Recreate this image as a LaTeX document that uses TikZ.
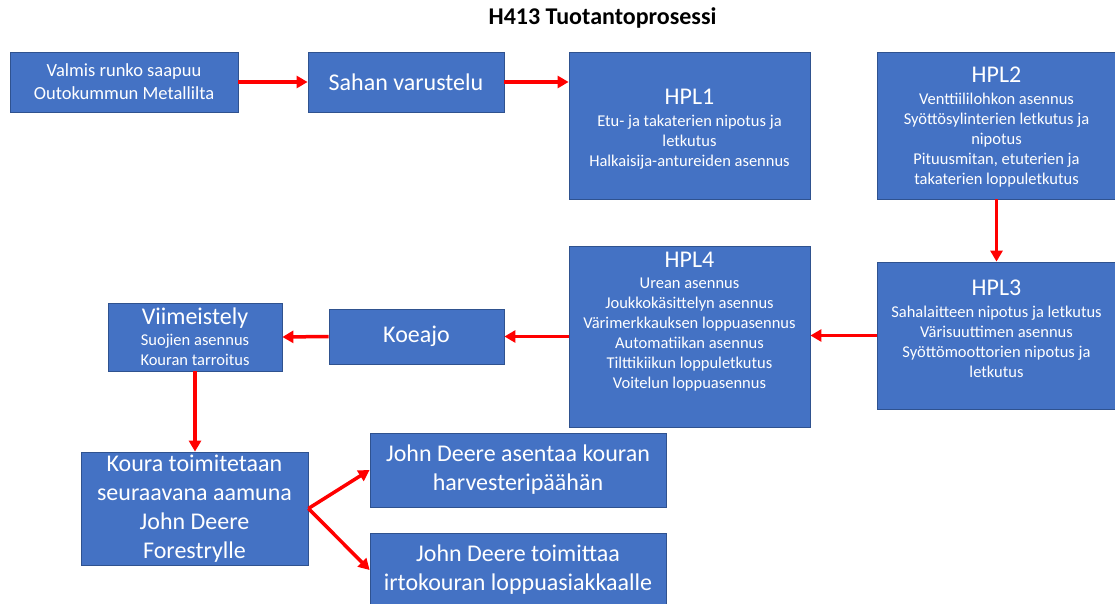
\documentclass[tikz,border=0pt]{standalone}
\usepackage{fontspec}
\setmainfont{Carlito}
\usetikzlibrary{arrows.meta}
\definecolor{boxblue}{HTML}{4472C4}
\definecolor{boxline}{HTML}{2F528F}
\definecolor{arrred}{HTML}{FF0000}
\newcommand\fSm{\fontsize{16.5}{20}\selectfont}
\newcommand\fMd{\fontsize{18.5}{23}\selectfont}
\newcommand\fLg{\fontsize{24}{29}\selectfont}
\newcommand\fTl{\fontsize{24}{28}\selectfont}
\tikzset{
  box/.style={draw=boxline, fill=boxblue, line width=0.8pt, rectangle, inner sep=0pt,
    text=white, align=center},
  txt/.style={text=white, align=center, inner sep=0pt},
  arr/.style={draw=arrred, line width=3.5pt, -{Triangle[length=11pt,width=12pt]}},
}
\begin{document}
\begin{tikzpicture}[x=1pt,y=-1pt]
\useasboundingbox (0,0) rectangle (1115,604);
\fill[white] (0,0) rectangle (1115,604);

\node[font=\fTl\bfseries, inner sep=0pt] (title) at (602.5,18) {H413 Tuotantoprosessi};

\node[box, font=\fMd, minimum width=228pt, minimum height=60pt] (valmis) at (124,82)
  {Valmis runko saapuu\\Outokummun Metallilta};
\node[box, font=\fLg, minimum width=196pt, minimum height=60pt] (sahan) at (406,82)
  {Sahan varustelu};
\node[box, minimum width=241pt, minimum height=147pt] (hpl1) at (689.5,125.5) {};
\node[txt, font=\fSm] (hpl1txt) at (689.5,129)
  {{\fLg HPL1}\\[2pt]Etu- ja takaterien nipotus ja\\letkutus\\Halkaisija-antureiden asennus};
\node[box, minimum width=239pt, minimum height=147pt] (hpl2) at (996.5,125.5) {};
\node[txt, font=\fSm] (hpl2txt) at (996.5,127)
  {{\fLg HPL2}\\[2pt]Venttiililohkon asennus\\Syöttösylinterien letkutus ja\\nipotus\\Pituusmitan, etuterien ja\\takaterien loppuletkutus};
\node[box, minimum width=239pt, minimum height=147pt] (hpl3) at (996.5,335.5) {};
\node[txt, font=\fSm] (hpl3txt) at (996.5,329)
  {{\fLg HPL3}\\[2pt]Sahalaitteen nipotus ja letkutus\\Värisuuttimen asennus\\Syöttömoottorien nipotus ja\\letkutus};
\node[box, minimum width=241pt, minimum height=181pt] (hpl4) at (689.5,336.5) {};
\node[txt, font=\fSm, anchor=north] (hpl4txt) at ([yshift=-6pt]hpl4.north)
  {{\fLg HPL4}\\[1pt]Urean asennus\\Joukkokäsittelyn asennus\\Värimerkkauksen loppuasennus\\Automatiikan asennus\\Tilttikiikun loppuletkutus\\Voitelun loppuasennus};
\node[box, font=\fLg, minimum width=175pt, minimum height=55pt] (koeajo) at (416.5,336.5)
  {Koeajo};
\node[box, font=\fSm, minimum width=174pt, minimum height=68pt] (viim) at (195,337)
  {{\fLg Viimeistely}\\[1pt]Suojien asennus\\Kouran tarroitus};
\node[box, font=\fLg, minimum width=227pt, minimum height=113pt] (koura) at (194.5,508.5)
  {Koura toimitetaan\\seuraavana aamuna\\John Deere\\Forestrylle};
\node[box, font=\fLg, minimum width=296pt, minimum height=74pt] (jd1) at (518,470)
  {John Deere asentaa kouran\\harvesteripäähän};
\node[box, font=\fLg, minimum width=296pt, minimum height=74pt] (jd2) at (518,570)
  {John Deere toimittaa\\irtokouran loppuasiakkaalle};

\draw[arr] (valmis.east) -- (sahan.west);
\draw[arr] (sahan.east) -- (sahan.east -| hpl1.west);
\draw[arr] (hpl2.south) -- (hpl2.south |- hpl3.north);
\draw[arr] (hpl3.west) -- (hpl3.west -| hpl4.east);
\draw[arr] (hpl4.west |- koeajo.east) -- (koeajo.east);
\draw[arr] (koeajo.west) -- (viim.east);
\draw[arr] (viim.south) -- (viim.south |- koura.north);
\draw[arr] (koura.east) -- (jd1.west);
\draw[arr] (koura.east) -- (jd2.west);
\end{tikzpicture}
\end{document}
